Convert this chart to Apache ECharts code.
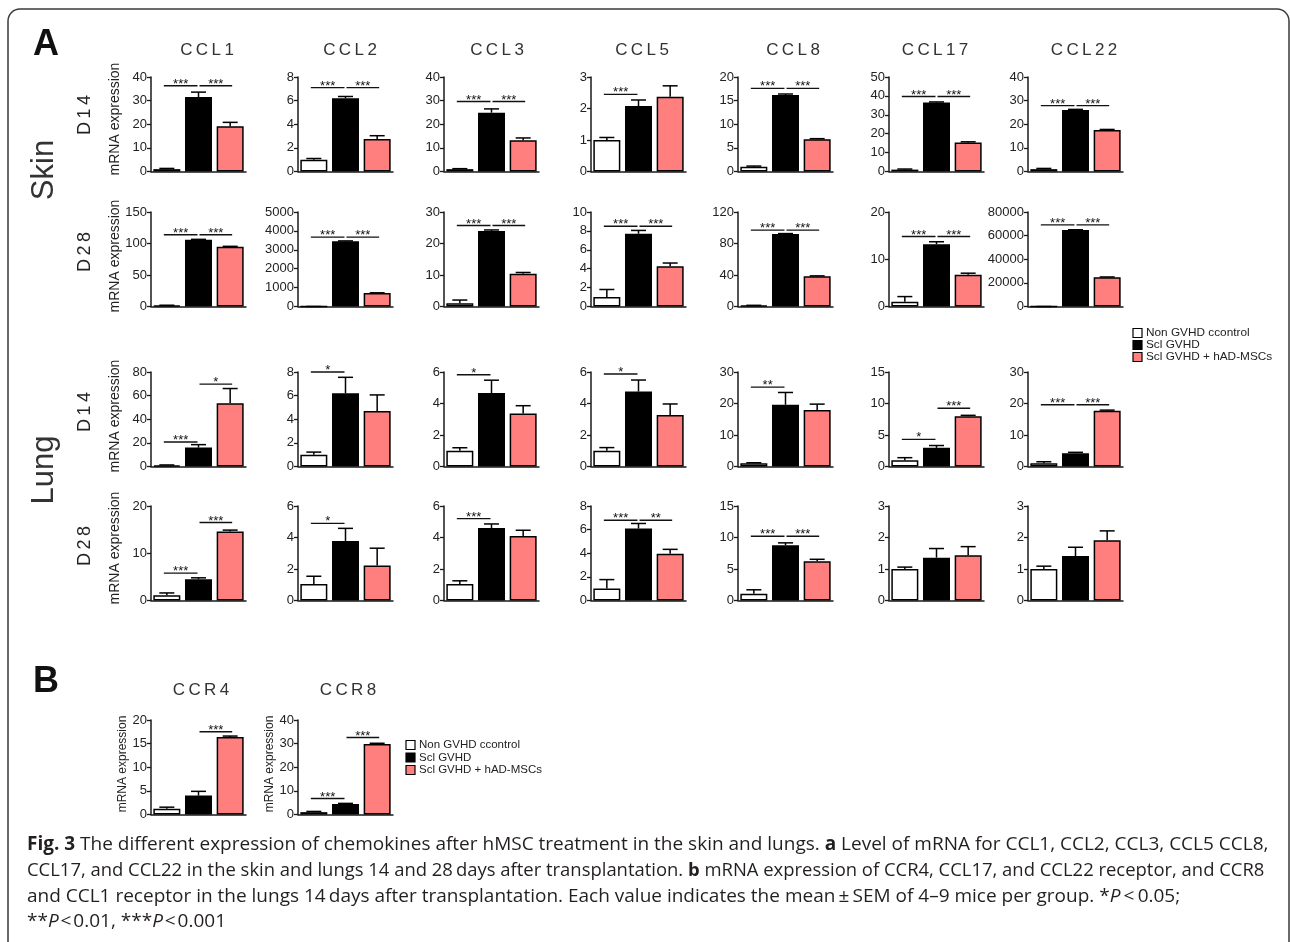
<!DOCTYPE html>
<html>
<head>
<meta charset="utf-8">
<script src="https://cdn.jsdelivr.net/npm/echarts@6/dist/echarts.min.js"></script>
<style>
  html, body { margin: 0; padding: 0; background: #fff; }
  #chart { width: 1290px; height: 942px; }
</style>
</head>
<body>
<div id="chart"></div>
<script>
// ---- groups and labels ----
const groups = ['Non GVHD ccontrol', 'Scl GVHD', 'Scl GVHD + hAD-MSCs'];
const groupColors = ['#ffffff', '#000000', '#ff7f7f'];
const chemokines = ['CCL1', 'CCL2', 'CCL3', 'CCL5', 'CCL8', 'CCL17', 'CCL22'];
const receptors = ['CCR4', 'CCR8'];

// ---- Skin, day 14 (mean, SEM, axis max, tick step, significance [from, to, height, stars]) ----
const skinD14Mean = [[1, 31.5, 19.2], [1, 6.2, 2.75], [1, 24.9, 13.2], [1, 2.08, 2.37], [1, 16.2, 6.85], [1, 36.5, 15.4], [1, 26.0, 17.6]];
const skinD14Sem  = [[0.3, 2.1, 1.6], [0.1, 0.15, 0.28], [0.2, 1.6, 1.0], [0.08, 0.19, 0.35], [0.15, 0.2, 0.1], [0.3, 0.3, 0.3], [0.3, 0.3, 0.2]];
const skinD14Max  = [40, 8, 40, 3, 20, 50, 40];
const skinD14Step = [10, 2, 10, 1, 5, 10, 10];
const skinD14Sig  = [
  [[0, 1, 36.3, '***'], [1, 2, 36.3, '***']],
  [[0, 1, 7.1, '***'], [1, 2, 7.1, '***']],
  [[0, 1, 29.6, '***'], [1, 2, 29.6, '***']],
  [[0, 1, 2.45, '***']],
  [[0, 1, 17.6, '***'], [1, 2, 17.6, '***']],
  [[0, 1, 39.7, '***'], [1, 2, 39.7, '***']],
  [[0, 1, 27.9, '***'], [1, 2, 27.9, '***']]
];

// ---- Skin, day 28 ----
const skinD28Mean = [[1.5, 106, 95], [1, 3450, 715], [1, 24.0, 10.4], [1, 7.7, 4.25], [1, 92, 38.5], [1, 13.2, 6.7], [1, 64800, 24800]];
const skinD28Sem  = [[0.5, 0.6, 0.5], [0, 20, 10], [1.05, 0.3, 0.4], [0.8, 0.35, 0.35], [0.5, 0.6, 0.4], [1.1, 0.5, 0.35], [0, 200, 200]];
const skinD28Max  = [150, 5000, 30, 10, 120, 20, 80000];
const skinD28Step = [50, 1000, 10, 2, 40, 10, 20000];
const skinD28Sig  = [
  [[0, 1, 114, '***'], [1, 2, 114, '***']],
  [[0, 1, 3670, '***'], [1, 2, 3670, '***']],
  [[0, 1, 25.7, '***'], [1, 2, 25.7, '***']],
  [[0, 1, 8.5, '***'], [1, 2, 8.5, '***']],
  [[0, 1, 97, '***'], [1, 2, 97, '***']],
  [[0, 1, 14.8, '***'], [1, 2, 14.8, '***']],
  [[0, 1, 69100, '***'], [1, 2, 69100, '***']]
];

// ---- Lung, day 14 ----
const lungD14Mean = [[1, 16.0, 53.5], [1, 6.2, 4.7], [1, 4.66, 3.37], [1, 4.76, 3.27], [1, 19.6, 17.9], [1, 2.96, 7.96], [1, 4.2, 17.7]];
const lungD14Sem  = [[0.3, 2.5, 12.5], [0.22, 1.35, 1.36], [0.19, 0.82, 0.49], [0.2, 0.73, 0.7], [0.2, 3.9, 1.9], [0.4, 0.37, 0.16], [0.5, 0.3, 0.2]];
const lungD14Max  = [80, 8, 6, 6, 30, 15, 30];
const lungD14Step = [20, 2, 2, 2, 10, 5, 10];
const lungD14Sig  = [
  [[0, 1, 20.7, '***'], [1, 2, 69.7, '*']],
  [[0, 1, 8.0, '*']],
  [[0, 1, 5.83, '*']],
  [[0, 1, 5.87, '*']],
  [[0, 1, 25.2, '**']],
  [[0, 1, 4.3, '*'], [1, 2, 9.25, '***']],
  [[0, 1, 19.6, '***'], [1, 2, 19.6, '***']]
];

// ---- Lung, day 28 ----
const lungD28Mean = [[1.1, 4.5, 14.6], [1.04, 3.78, 2.22], [1.05, 4.6, 4.1], [1.02, 6.09, 3.96], [1.06, 8.78, 6.22], [1.0, 1.36, 1.44], [1.0, 1.41, 1.91]];
const lungD28Sem  = [[0.5, 0.3, 0.3], [0.5, 0.8, 1.1], [0.2, 0.26, 0.36], [0.75, 0.43, 0.37], [0.64, 0.37, 0.32], [0.06, 0.29, 0.27], [0.09, 0.28, 0.3]];
const lungD28Max  = [20, 6, 6, 8, 15, 3, 3];
const lungD28Step = [10, 2, 2, 2, 5, 1, 1];
const lungD28Sig  = [
  [[0, 1, 5.8, '***'], [1, 2, 16.5, '***']],
  [[0, 1, 4.9, '*']],
  [[0, 1, 5.2, '***']],
  [[0, 1, 6.8, '***'], [1, 2, 6.8, '**']],
  [[0, 1, 10.2, '***'], [1, 2, 10.2, '***']],
  [],
  []
];

// ---- Lung receptors, day 14 ----
const receptorMean = [[1.2, 4.0, 16.4], [1, 4.4, 29.8]];
const receptorSem  = [[0.35, 0.9, 0.2], [0.3, 0.3, 0.35]];
const receptorMax  = [20, 40];
const receptorStep = [5, 10];
const receptorSig  = [
  [[1, 2, 17.5, '***']],
  [[0, 1, 6.8, '***'], [1, 2, 32.6, '***']]
];

// ---- layout ----
const colLeft = [151, 298, 444, 591, 738, 889, 1028];
const rowTop = [77, 212, 372, 506];
const plotW = 95;
const plotH = 94.5;
const titleX = [207, 350, 497, 642, 793, 935, 1084];
const receptorTop = 720;
const receptorTitleX = [201, 348];

const FONT = "'Liberation Sans', Arial, sans-serif";
const INK = '#1a1a1a';

// spread letters with thin spaces
const spaced = s => s.split('').join('\u2009');

const panels = [];
const rows = [
  [skinD14Mean, skinD14Sem, skinD14Max, skinD14Step, skinD14Sig],
  [skinD28Mean, skinD28Sem, skinD28Max, skinD28Step, skinD28Sig],
  [lungD14Mean, lungD14Sem, lungD14Max, lungD14Step, lungD14Sig],
  [lungD28Mean, lungD28Sem, lungD28Max, lungD28Step, lungD28Sig]
];
rows.forEach((r, ri) => {
  chemokines.forEach((c, ci) => {
    panels.push({ left: colLeft[ci], top: rowTop[ri], mean: r[0][ci], sem: r[1][ci], max: r[2][ci], step: r[3][ci], sig: r[4][ci] });
  });
});
receptors.forEach((c, i) => {
  panels.push({ left: colLeft[i], top: receptorTop, mean: receptorMean[i], sem: receptorSem[i], max: receptorMax[i], step: receptorStep[i], sig: receptorSig[i] });
});

function renderErr(params, api) {
  const x = api.value(0);
  const lo = api.coord([x, api.value(1)]);
  const hi = api.coord([x, api.value(2)]);
  const half = 7.5;
  return {
    type: 'group',
    children: [
      { type: 'line', shape: { x1: lo[0], y1: lo[1], x2: hi[0], y2: hi[1] }, style: { stroke: '#000', lineWidth: 1.5 } },
      { type: 'line', shape: { x1: hi[0] - half, y1: hi[1], x2: hi[0] + half, y2: hi[1] }, style: { stroke: '#000', lineWidth: 1.5 } }
    ]
  };
}

function renderSig(params, api) {
  const a = api.value(0), b = api.value(1), y = api.value(2);
  const label = params.context.labels[params.dataIndex];
  const pa = api.coord([a, y]);
  const pb = api.coord([b, y]);
  const x1 = pa[0] - 3 + (a === 1 ? 4 : 0);
  const x2 = pb[0] + 2 - (b === 1 ? 3 : 0);
  return {
    type: 'group',
    children: [
      { type: 'line', shape: { x1: x1, y1: pa[1], x2: x2, y2: pa[1] }, style: { stroke: '#111', lineWidth: 1.4 } },
      { type: 'text', x: (x1 + x2) / 2, y: pa[1] - 1.5,
        style: { text: label, fontSize: 13, fontFamily: FONT, fill: '#111', align: 'center', verticalAlign: 'middle' } }
    ]
  };
}

const grid = [], xAxis = [], yAxis = [], series = [];
panels.forEach((p, k) => {
  grid.push({ left: p.left, top: p.top, width: plotW, height: plotH });
  xAxis.push({
    type: 'category', gridIndex: k, data: groups, boundaryGap: true,
    axisLine: { show: true, lineStyle: { color: INK, width: 1.5 } },
    axisTick: { show: false }, axisLabel: { show: false }, splitLine: { show: false }
  });
  yAxis.push({
    type: 'value', gridIndex: k, min: 0, max: p.max, interval: p.step,
    axisLine: { show: true, lineStyle: { color: INK, width: 1.5 } },
    axisTick: { show: true, length: 4, lineStyle: { color: INK, width: 1.3 } },
    axisLabel: { fontSize: 13, fontFamily: FONT, color: '#222', margin: 4, formatter: v => String(v) },
    splitLine: { show: false }
  });
  series.push({
    type: 'bar', xAxisIndex: k, yAxisIndex: k, barWidth: 27, animation: false, silent: true,
    itemStyle: { borderColor: '#000', borderWidth: 1.5 },
    data: p.mean.map((v, i) => ({ value: v, itemStyle: { color: groupColors[i] } }))
  });
  series.push({
    type: 'custom', xAxisIndex: k, yAxisIndex: k, animation: false, silent: true,
    renderItem: renderErr,
    data: p.mean.map((v, i) => [i, v, v + p.sem[i]]),
    z: 3
  });
  if (p.sig.length) {
    const labels = p.sig.map(s => s[3]);
    series.push({
      type: 'custom', xAxisIndex: k, yAxisIndex: k, animation: false, silent: true,
      renderItem: (params, api) => { params.context.labels = labels; return renderSig(params, api); },
      data: p.sig.map(s => [s[0], s[1], s[2]]),
      z: 4
    });
  }
});

// ---- text, legends and frame ----
const graphic = [];
graphic.push({ type: 'rect', shape: { x: 8, y: 9, width: 1281, height: 1000, r: 12 }, style: { fill: 'none', stroke: '#3a3a3a', lineWidth: 1.5 }, silent: true });
graphic.push({ type: 'text', x: 46, y: 45, style: { text: 'A', fontSize: 36, fontWeight: 'bold', fontFamily: FONT, fill: '#111', align: 'center', verticalAlign: 'middle' } });
graphic.push({ type: 'text', x: 46, y: 682, style: { text: 'B', fontSize: 36, fontWeight: 'bold', fontFamily: FONT, fill: '#111', align: 'center', verticalAlign: 'middle' } });

chemokines.forEach((c, i) => {
  graphic.push({ type: 'text', x: titleX[i], y: 50, style: { text: spaced(c), fontSize: 17, fontFamily: FONT, fill: '#333', align: 'center', verticalAlign: 'middle' } });
});
receptors.forEach((c, i) => {
  graphic.push({ type: 'text', x: receptorTitleX[i], y: 690, style: { text: spaced(c), fontSize: 17, fontFamily: FONT, fill: '#333', align: 'center', verticalAlign: 'middle' } });
});

function vtext(txt, x, y, size, color) {
  graphic.push({ type: 'text', x: x, y: y, rotation: Math.PI / 2,
    style: { text: txt, fontSize: size, fontFamily: FONT, fill: color, align: 'center', verticalAlign: 'middle' } });
}
vtext('Skin', 44, 170, 31, '#333');
vtext('Lung', 44, 470, 31, '#333');
vtext(spaced('D14'), 85, 115, 18, '#222');
vtext(spaced('D28'), 85, 252, 18, '#222');
vtext(spaced('D14'), 85, 412, 18, '#222');
vtext(spaced('D28'), 85, 546, 18, '#222');
vtext('mRNA expression', 115, 119, 14, '#222');
vtext('mRNA expression', 115, 256, 14, '#222');
vtext('mRNA expression', 115, 416, 14, '#222');
vtext('mRNA expression', 115, 548, 14, '#222');
vtext('mRNA expression', 123, 764, 12, '#222');
vtext('mRNA expression', 270, 764, 12, '#222');

function legend(x, y, gap, size) {
  groups.forEach((g, i) => {
    graphic.push({ type: 'rect', shape: { x: x, y: y + i * gap - 4.5, width: 9, height: 9 },
      style: { fill: groupColors[i], stroke: '#000', lineWidth: 1.2 } });
    graphic.push({ type: 'text', x: x + 13, y: y + i * gap,
      style: { text: g, fontSize: size, fontFamily: FONT, fill: '#222', align: 'left', verticalAlign: 'middle' } });
  });
}
legend(1133, 333, 12, 11.8);
legend(406, 745, 12.5, 11.5);

const CAP = "'Open Sans', 'Noto Sans', sans-serif";
const captionLines = [
  '{b|Fig. 3} The different expression of chemokines after hMSC treatment in the skin and lungs. {b|a} Level of mRNA for CCL1, CCL2, CCL3, CCL5 CCL8,',
  'CCL17, and CCL22 in the skin and lungs 14 and 28\u2009days after transplantation. {b|b} mRNA expression of CCR4, CCL17, and CCL22 receptor, and CCR8',
  'and CCL1 receptor in the lungs 14\u2009days after transplantation. Each value indicates the mean\u2009\u00b1\u2009SEM of 4\u20139 mice per group. *{i|P}\u2009<\u20090.05;',
  '**{i|P}\u200a<\u200a0.01, ***{i|P}\u200a<\u200a0.001'
];
const captionY = [845, 871, 897, 922];
const captionSize = [19, 18.45, 19, 19];
captionLines.forEach((t, i) => {
  const sz = captionSize[i];
  graphic.push({ type: 'text', x: 27, y: captionY[i],
    style: { text: t, fontFamily: CAP, fontSize: sz, fill: '#231f20', align: 'left', verticalAlign: 'middle',
      rich: {
        b: { fontFamily: CAP, fontSize: sz, fontWeight: 'bold', fill: '#231f20' },
        i: { fontFamily: CAP, fontSize: sz, fontStyle: 'italic', fill: '#231f20' }
      } } });
});

const chart = echarts.init(document.getElementById('chart'), null, { renderer: 'canvas', width: 1290, height: 942 });
chart.setOption({
  animation: false,
  backgroundColor: '#ffffff',
  grid: grid,
  xAxis: xAxis,
  yAxis: yAxis,
  series: series,
  graphic: graphic
});
</script>
</body>
</html>
